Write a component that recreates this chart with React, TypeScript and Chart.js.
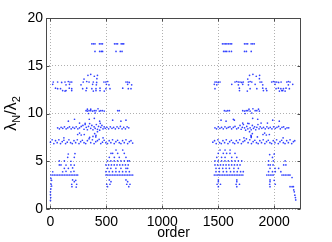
import React, { useEffect, useRef } from "react";
import { Chart, registerables } from "chart.js";

Chart.register(...registerables);

const xTicks = [0, 500, 1000, 1500, 2000];
const yTicks = [0, 5, 10, 15, 20];
const xTitle = "order";
const yTitleParts: { t: string; sub: boolean }[] = [
  { t: "λ", sub: false },
  { t: "N", sub: true },
  { t: "/λ", sub: false },
  { t: "2", sub: true },
];

type P = [number, number];

const topLeft: P[] = [
  [370, 17.3], [384, 17.3], [398, 17.3], [438, 17.3], [452, 17.3], [465, 17.3],
  [573, 17.3], [587, 17.3], [600, 17.3], [632, 17.3], [644, 17.3], [655, 17.3],
  [398, 16.5], [440, 16.5], [455, 16.5], [466, 16.5], [586, 16.5], [624, 16.5], [640, 16.5],
];
const topRight: P[] = [
  [1538, 17.3], [1552, 17.3], [1566, 17.3], [1578, 17.3], [1593, 17.3], [1607, 17.3], [1620, 17.3],
  [1735, 17.3], [1749, 17.3], [1763, 17.3], [1794, 17.3], [1808, 17.3], [1822, 17.3],
  [1548, 16.5], [1562, 16.5], [1576, 16.5], [1598, 16.5], [1618, 16.5], [1735, 16.5], [1752, 16.5], [1795, 16.5],
];

const band13Left: P[] = [
  [335, 14.0], [360, 14.1], [392, 13.9], [420, 14.0], [300, 13.6], [415, 13.65],
  [25, 13.3], [64, 13.3], [100, 13.25], [130, 13.3], [159, 13.35], [175, 13.3], [190, 13.3], [293, 13.3],
  [324, 13.35], [345, 13.3], [383, 13.3], [413, 13.25], [478, 13.3], [495, 13.3], [512, 13.35], [675, 13.3],
  [690, 13.3], [705, 13.25],
  [20, 13.05], [139, 13.0], [170, 13.05], [273, 13.0], [377, 13.05], [410, 13.0], [500, 13.05], [523, 13.0],
  [690, 13.05], [726, 13.0],
  [45, 12.65], [64, 12.6], [90, 12.6], [168, 12.65], [190, 12.6], [288, 12.6], [324, 12.65], [370, 12.6],
  [407, 12.6], [443, 12.65], [496, 12.6], [532, 12.6], [646, 12.65], [696, 12.6], [720, 12.6],
  [109, 12.4], [130, 12.35], [139, 12.4], [190, 12.4], [318, 12.4], [383, 12.35], [407, 12.4], [443, 12.4], [481, 12.35],
];
const band13Right: P[] = [
  [1780, 14.0], [1810, 14.1], [1840, 13.9], [1870, 14.0], [1764, 13.6], [1868, 13.65],
  [1471, 13.3], [1485, 13.3], [1500, 13.25], [1516, 13.3], [1650, 13.3], [1665, 13.35], [1680, 13.3], [1695, 13.3],
  [1710, 13.25], [1724, 13.3], [1770, 13.3], [1785, 13.35], [1800, 13.3], [1874, 13.3], [1889, 13.3], [1978, 13.3],
  [1993, 13.35], [2008, 13.3], [2023, 13.3], [2040, 13.25], [2062, 13.3], [2113, 13.3], [2127, 13.35], [2142, 13.3],
  [1465, 13.05], [1487, 13.0], [1621, 13.05], [1680, 13.0], [1719, 13.05], [1770, 13.0], [1830, 13.05], [1898, 13.0],
  [2008, 13.05], [2127, 13.0], [2166, 13.05],
  [1471, 12.6], [1689, 12.65], [1785, 12.6], [1845, 12.6], [1898, 12.65], [1928, 12.6], [2017, 12.6], [2038, 12.65],
  [2060, 12.6], [2083, 12.6], [2106, 12.65], [2136, 12.6],
  [1690, 12.4], [1760, 12.35], [1904, 12.4], [1934, 12.4], [2047, 12.35], [2068, 12.4], [2077, 12.4], [2098, 12.35],
];

const band10Left: P[] = [
  [330, 10.45], [360, 10.45], [425, 10.5],
  [318, 10.3], [330, 10.25], [345, 10.3], [360, 10.3], [377, 10.25], [392, 10.3], [407, 10.3], [437, 10.25],
  [450, 10.3], [465, 10.3], [481, 10.25], [601, 10.3], [615, 10.3],
  [340, 10.0], [400, 10.05],
  [160, 9.2], [215, 9.4], [260, 9.0], [347, 9.4], [392, 9.5], [440, 9.2], [556, 9.3], [630, 9.2], [675, 9.3],
  [310, 8.97], [445, 8.97],
];
const band10Right: P[] = [
  [1775, 10.45], [1810, 10.5], [1860, 10.45],
  [1555, 10.3], [1570, 10.25], [1585, 10.3], [1600, 10.3], [1719, 10.3], [1735, 10.25], [1750, 10.3], [1764, 10.3],
  [1785, 10.25], [1830, 10.3], [1845, 10.3], [1868, 10.25],
  [1740, 10.0], [1800, 10.05],
  [1525, 9.3], [1570, 9.2], [1635, 9.4], [1644, 9.3], [1808, 9.5], [1853, 9.4], [1940, 9.0], [1987, 9.3], [2046, 9.2],
  [1719, 9.0], [1764, 8.97], [1883, 9.0],
];

const band85Left: P[] = [
  [64, 8.5], [80, 8.4], [95, 8.55], [110, 8.45], [125, 8.6], [140, 8.4], [155, 8.5], [170, 8.6], [185, 8.4],
  [200, 8.55], [215, 8.45], [230, 8.6], [245, 8.4], [260, 8.5], [275, 8.65], [290, 8.75], [300, 8.35], [310, 8.85],
  [320, 8.55], [330, 8.3], [340, 8.65], [350, 8.95], [360, 8.45], [370, 8.75], [380, 8.3], [390, 8.6], [400, 8.45],
  [410, 8.85], [420, 8.35], [430, 8.65], [440, 8.25], [450, 8.55], [460, 8.75], [470, 8.4], [480, 8.6], [490, 8.45],
  [505, 8.55], [520, 8.4], [535, 8.6], [550, 8.45], [565, 8.55], [580, 8.4], [595, 8.6], [610, 8.45], [625, 8.65],
  [640, 8.4], [655, 8.55], [670, 8.4], [685, 8.6], [700, 8.5],
  [243, 7.8], [260, 7.95], [275, 7.75], [302, 7.8], [380, 7.6], [395, 7.9], [407, 7.7], [420, 8.1],
];
const band85Right: P[] = [
  [1471, 8.5], [1485, 8.4], [1500, 8.6], [1515, 8.45], [1530, 8.55], [1545, 8.4], [1560, 8.6], [1575, 8.45],
  [1590, 8.55], [1605, 8.6], [1620, 8.4], [1635, 8.55], [1650, 8.65], [1665, 8.4], [1680, 8.5], [1695, 8.75],
  [1705, 8.35], [1715, 8.55], [1725, 8.85], [1735, 8.5], [1745, 8.25], [1755, 8.65], [1765, 8.4], [1775, 8.95],
  [1785, 8.5], [1795, 8.3], [1805, 8.75], [1815, 8.45], [1825, 8.6], [1835, 8.3], [1845, 8.55], [1855, 8.85],
  [1865, 8.4], [1875, 8.6], [1890, 8.45], [1905, 8.55], [1920, 8.4], [1935, 8.6], [1950, 8.45], [1965, 8.55],
  [1980, 8.4], [1995, 8.6], [2010, 8.45], [2025, 8.55], [2040, 8.65], [2055, 8.4], [2070, 8.55], [2085, 8.6],
  [2100, 8.4], [2115, 8.5], [2130, 8.5],
  [1900, 7.8], [1915, 7.95], [1930, 7.75], [1957, 7.8], [1795, 7.6], [1805, 7.9], [1793, 7.7], [1780, 8.1],
];

const band7Left: P[] = [
  [0, 7.0], [15, 7.25], [30, 6.85], [45, 7.15], [60, 6.95], [75, 7.25], [90, 6.85], [105, 7.05], [120, 7.2], [135, 6.85],
  [150, 7.0], [165, 7.25], [180, 6.95], [195, 6.85], [210, 7.15], [225, 6.95], [240, 7.25], [255, 6.85], [270, 7.05],
  [285, 7.2], [300, 6.95], [315, 6.85], [330, 7.15], [345, 7.35], [360, 6.95], [375, 7.25], [390, 6.85], [405, 7.05],
  [420, 7.15], [435, 7.3], [450, 6.85], [465, 7.0], [480, 7.2], [495, 6.95], [510, 6.85], [525, 7.15], [540, 6.95],
  [555, 7.25], [570, 6.85], [585, 7.05], [600, 7.2], [615, 6.95], [630, 6.85], [645, 7.15], [660, 6.95], [675, 7.25],
  [690, 6.85], [705, 7.05], [720, 7.15], [735, 6.9],
  [120, 7.45], [350, 7.5], [405, 7.55], [470, 7.45],
];
const band7Right: P[] = [
  [1452, 7.0], [1467, 7.15], [1482, 6.85], [1497, 7.25], [1512, 6.95], [1527, 6.85], [1542, 7.15], [1557, 6.95],
  [1572, 7.25], [1587, 6.85], [1602, 7.05], [1617, 7.2], [1632, 6.95], [1647, 6.85], [1662, 7.15], [1677, 6.95],
  [1692, 7.25], [1707, 6.85], [1722, 7.05], [1737, 7.15], [1752, 7.35], [1767, 6.95], [1782, 7.25], [1797, 6.85],
  [1812, 7.05], [1827, 7.2], [1842, 6.95], [1857, 6.85], [1872, 7.15], [1887, 6.95], [1902, 7.25], [1917, 6.85],
  [1932, 7.05], [1947, 7.2], [1962, 6.95], [1977, 6.85], [1992, 7.15], [2007, 6.95], [2022, 7.25], [2037, 6.85],
  [2052, 7.05], [2067, 7.2], [2082, 6.95], [2097, 6.85], [2112, 7.15], [2127, 6.95], [2142, 7.25], [2157, 6.85],
  [2172, 7.05], [2184, 7.15],
  [1730, 7.45], [1795, 7.5], [1850, 7.55], [2080, 7.45],
];

const lowLeft: P[] = [
  [4, 3.56], [4, 3.2], [10, 3.0], [5, 2.6], [10, 2.4], [3, 2.1], [0, 1.8], [0, 1.5], [2, 1.2], [0, 0.9],
  [20, 3.56], [35, 3.56], [50, 3.56], [65, 3.56], [80, 3.56], [95, 3.56], [110, 3.56], [125, 3.56], [140, 3.56],
  [155, 3.56], [170, 3.56], [185, 3.56], [200, 3.56], [215, 3.56], [230, 3.56], [243, 3.56],
  [20, 3.9], [109, 3.9], [139, 3.95], [183, 3.9], [210, 3.95],
  [124, 4.26], [160, 4.26], [198, 4.3],
  [79, 4.61], [94, 4.61], [139, 4.6], [183, 4.61], [213, 4.6],
  [79, 5.03], [124, 5.03], [183, 5.0],
  [154, 5.41], [213, 5.41], [159, 5.76], [219, 5.8],
  [198, 3.04], [213, 2.86], [226, 3.0], [190, 2.59], [234, 2.59], [192, 2.34], [230, 2.3],
  [586, 6.18], [646, 6.18],
  [541, 5.83], [556, 5.83], [601, 5.83], [660, 5.83],
  [526, 5.41], [571, 5.41], [615, 5.41], [675, 5.41],
  [511, 5.03], [540, 5.03], [570, 5.03], [600, 5.03], [630, 5.03], [660, 5.03], [690, 5.03], [705, 5.03],
  [496, 4.61], [520, 4.61], [545, 4.61], [570, 4.61], [595, 4.61], [620, 4.61], [645, 4.61], [670, 4.61], [695, 4.61],
  [511, 4.26], [540, 4.26], [585, 4.26], [630, 4.26], [675, 4.26], [690, 4.26],
  [496, 3.91], [525, 3.91], [555, 3.91], [585, 3.91], [615, 3.91], [645, 3.91], [675, 3.91], [705, 3.91],
  [496, 3.56], [510, 3.56], [525, 3.56], [540, 3.56], [555, 3.56], [570, 3.56], [585, 3.56], [600, 3.56],
  [615, 3.56], [630, 3.56], [645, 3.56], [660, 3.56], [675, 3.56], [690, 3.56], [705, 3.56], [720, 3.56], [735, 3.56],
  [526, 3.04], [675, 3.04], [541, 2.86], [690, 2.86],
  [503, 2.59], [532, 2.59], [682, 2.59], [711, 2.59], [510, 2.34], [700, 2.34],
];
const lowRight: P[] = [
  [1516, 6.18], [1561, 6.18], [1606, 6.18],
  [1500, 5.83], [1545, 5.83], [1575, 5.83], [1605, 5.83], [1650, 5.83],
  [1487, 5.41], [1530, 5.41], [1561, 5.41], [1621, 5.41], [1666, 5.41],
  [1471, 5.03], [1500, 5.03], [1530, 5.03], [1560, 5.03], [1590, 5.03], [1620, 5.03], [1650, 5.03], [1680, 5.03], [1710, 5.03],
  [1471, 4.61], [1495, 4.61], [1520, 4.61], [1545, 4.61], [1570, 4.61], [1595, 4.61], [1620, 4.61], [1645, 4.61],
  [1670, 4.61], [1695, 4.61],
  [1480, 4.26], [1510, 4.26], [1540, 4.26], [1570, 4.26], [1600, 4.26], [1640, 4.26], [1680, 4.26],
  [1480, 3.91], [1510, 3.91], [1545, 3.91], [1575, 3.91], [1610, 3.91], [1640, 3.91], [1670, 3.91], [1700, 3.91], [1724, 3.91],
  [1465, 3.56], [1480, 3.56], [1495, 3.56], [1510, 3.56], [1525, 3.56], [1540, 3.56], [1555, 3.56], [1570, 3.56],
  [1585, 3.56], [1600, 3.56], [1615, 3.56], [1630, 3.56], [1645, 3.56], [1660, 3.56], [1675, 3.56], [1690, 3.56],
  [1705, 3.56], [1720, 3.56],
  [1501, 3.04], [1666, 3.04], [1501, 2.86], [1666, 2.86],
  [1490, 2.59], [1520, 2.59], [1660, 2.59], [1690, 2.59], [1501, 2.34], [1666, 2.34],
  [1960, 5.7], [2000, 5.75], [1985, 5.4],
  [1950, 5.03], [1993, 5.03], [2098, 5.03],
  [1948, 4.61], [1965, 4.61], [1990, 4.61], [2085, 4.61], [2105, 4.61],
  [1963, 4.26], [2008, 4.26], [2040, 4.26],
  [1950, 3.91], [1985, 3.91], [2010, 3.91], [2060, 3.91],
  [1934, 3.56], [1950, 3.56], [1965, 3.56], [1980, 3.56], [1993, 3.56], [2070, 3.56], [2085, 3.56], [2100, 3.56],
  [2115, 3.56], [2130, 3.56], [2142, 3.56],
  [1963, 3.04], [2000, 3.0], [1963, 2.86], [1960, 2.59], [2010, 2.59],
  [1963, 2.34], [2142, 2.34], [2160, 2.34], [2172, 2.34],
  [2160, 3.3], [2175, 2.0], [2180, 1.8], [2185, 1.45], [2190, 1.2], [2193, 0.95],
];

const seriesPoints: P[] = [
  ...topLeft, ...topRight, ...band13Left, ...band13Right, ...band10Left, ...band10Right,
  ...band85Left, ...band85Right, ...band7Left, ...band7Right, ...lowLeft, ...lowRight,
];

const FONT = '"Liberation Sans", Arial, Helvetica, sans-serif';

const framePlugin = {
  id: "frame",
  afterDraw(chart: any) {
    const { ctx, chartArea, scales } = chart;
    const { left, right, top, bottom } = chartArea;
    ctx.save();
    ctx.strokeStyle = "#4a4a4a";
    ctx.lineWidth = 1;
    const L = Math.round(left) + 0.5;
    const R = Math.round(right) - 0.5;
    const T = Math.round(top) + 0.5;
    const B = Math.round(bottom) - 0.5;
    ctx.strokeRect(L, T, R - L, B - T);
    const tl = 3;
    ctx.beginPath();
    xTicks.forEach((v) => {
      const px = Math.round(scales.x.getPixelForValue(v)) + 0.5;
      ctx.moveTo(px, B);
      ctx.lineTo(px, B - tl);
      ctx.moveTo(px, T);
      ctx.lineTo(px, T + tl);
    });
    yTicks.forEach((v) => {
      const py = Math.round(scales.y.getPixelForValue(v)) + 0.5;
      ctx.moveTo(L, py);
      ctx.lineTo(L + tl, py);
      ctx.moveTo(R, py);
      ctx.lineTo(R - tl, py);
    });
    ctx.stroke();

    // y axis title with subscripts
    const mainFont = `16px ${FONT}`;
    const subFont = `11px ${FONT}`;
    let total = 0;
    const widths = yTitleParts.map((p) => {
      ctx.font = p.sub ? subFont : mainFont;
      const w = ctx.measureText(p.t).width;
      total += w;
      return w;
    });
    ctx.translate(16, (top + bottom) / 2);
    ctx.rotate(-Math.PI / 2);
    ctx.fillStyle = "#000";
    ctx.textAlign = "left";
    ctx.textBaseline = "alphabetic";
    let u = -total / 2;
    yTitleParts.forEach((p, i) => {
      ctx.font = p.sub ? subFont : mainFont;
      ctx.fillText(p.t, u, p.sub ? 4 : 0);
      u += widths[i];
    });
    ctx.restore();
  },
};

export default function App() {
  const ref = useRef<HTMLCanvasElement | null>(null);
  useEffect(() => {
    if (!ref.current) return;
    const chart = new Chart(ref.current, {
      type: "scatter",
      data: {
        datasets: [
          {
            data: seriesPoints.map(([x, y]) => ({ x, y })),
            pointRadius: 0.85,
            pointBorderWidth: 0,
            pointBackgroundColor: "rgba(0,20,255,0.8)",
            showLine: false,
          },
        ],
      },
      options: {
        animation: false,
        responsive: false,
        devicePixelRatio: 1,
        layout: { padding: { left: 0, right: 31, top: 18, bottom: 0 } },
        plugins: { legend: { display: false }, tooltip: { enabled: false } },
        scales: {
          x: {
            type: "linear",
            min: -40,
            max: 2240,
            afterBuildTicks: (s: any) => {
              s.ticks = xTicks.map((v) => ({ value: v }));
            },
            afterFit: (s: any) => {
              s.height = 33;
            },
            grid: { color: "#b0b0b0", lineWidth: 1, drawTicks: false },
            border: { display: false, dash: [1, 2] },
            ticks: {
              color: "#000",
              font: { family: FONT, size: 14 },
              padding: 5,
              maxRotation: 0,
              callback: (v: any) => String(v),
            },
            title: {
              display: true,
              text: xTitle,
              color: "#000",
              font: { family: FONT, size: 14 },
              padding: { top: 0, bottom: 0 },
            },
          },
          y: {
            type: "linear",
            min: 0,
            max: 20,
            afterBuildTicks: (s: any) => {
              s.ticks = yTicks.map((v) => ({ value: v }));
            },
            afterFit: (s: any) => {
              s.width = 46;
            },
            grid: { color: "#b0b0b0", lineWidth: 1, drawTicks: false },
            border: { display: false, dash: [1, 2] },
            ticks: {
              color: "#000",
              font: { family: FONT, size: 14 },
              padding: 3,
              callback: (v: any) => String(v),
            },
          },
        },
      },
      plugins: [framePlugin],
    } as any);
    return () => chart.destroy();
  }, []);
  return (
    <div style={{ position: "fixed", left: 0, top: 0, width: 332, height: 242, background: "#fff" }}>
      <canvas ref={ref} width={332} height={242} style={{ width: 332, height: 242 }} />
    </div>
  );
}
